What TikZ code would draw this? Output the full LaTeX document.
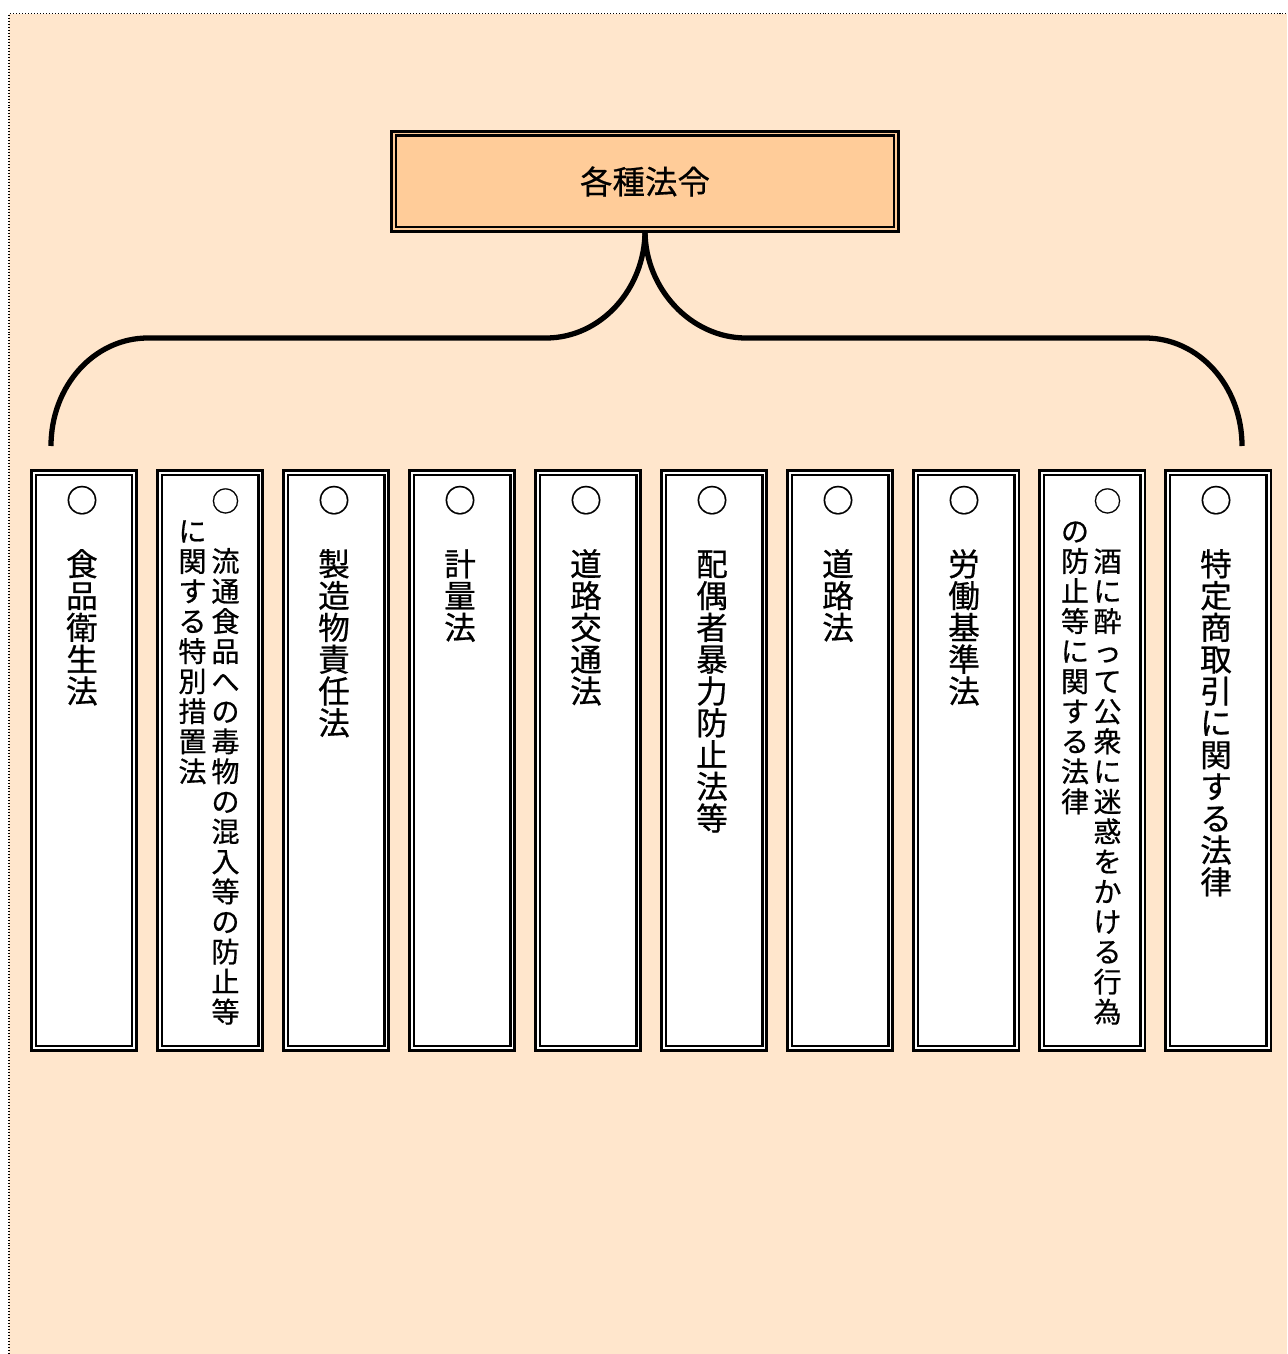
\documentclass[tikz,border=0pt]{standalone}
\usepackage{fontspec}
\newfontfamily\jp[FakeBold=0.6]{Noto Sans CJK JP}
\definecolor{paper}{RGB}{255,230,204}
\definecolor{titlefill}{RGB}{255,204,153}
\newcommand\tate[1]{\vbox{\lineskiplimit=-20pt\lineskip=0pt\tatestep#1\relax}}
\def\tatestep#1{\ifx\relax#1\else\hbox to 1em{\vrule height .88em depth .12em width 0pt\hss#1\hss}\expandafter\tatestep\fi}

\begin{document}
\begin{tikzpicture}[x=0.02cm,y=-0.02cm]
    \tikzstyle{every node}+=[inner sep=0pt]
    \tikzstyle{lawbox}=[draw=black,line width=1.42pt,double=white,double distance=1.13pt,fill=white,minimum width=2.02cm,minimum height=11.52cm]
    \tikzstyle{titlebox}=[lawbox,double=titlefill,fill=titlefill,minimum width=10.06cm,minimum height=1.92cm,font=\jp\fontsize{18.5}{20}\selectfont]
    \tikzstyle{col}=[anchor=north,font=\jp\fontsize{18}{18.1}\selectfont]
    \tikzstyle{smallcol}=[anchor=north,font=\jp\fontsize{16}{17.1}\selectfont]
    \tikzstyle{brace}=[draw=black,line width=3pt]
    \useasboundingbox (0,0) rectangle (1287,1354);
    \fill [paper] (9,14) rectangle (1287,1354);
    \draw [line width=0.57pt,dash pattern=on 0.57pt off 1.13pt] (9,1354) -- (9,14) -- (1287,14);
    \node [titlebox] (law) at (645,181.5) {各種法令};
    \coordinate (endL) at (51,446);
    \coordinate (endR) at (1242,446);
    \draw [brace] (law.south) .. controls +(0,58) and (601,338) .. (546,338) -- (148,338) .. controls (94,338) and (51,386) .. (endL);
    \draw [brace] (law.south) .. controls +(0,58) and (691,338) .. (746,338) -- (1145,338) .. controls (1199,338) and (1242,386) .. (endR);
    \foreach \i in {1,...,10}
        \node [lawbox] (box\i) at ({84+126*(\i-1)},760.5) {};
    \node [col] (t1) at (82,484) {\tate{○~食品衛生法}};
    \node [smallcol] (t2a) at (225.5,486.5) {\tate{○~流通食品への毒物の混入等の防止等}};
    \node [smallcol] (t2b) at (192.5,486.5) {\tate{~に関する特別措置法}};
    \node [col] (t3) at (334,484) {\tate{○~製造物責任法}};
    \node [col] (t4) at (460,484) {\tate{○~計量法}};
    \node [col] (t5) at (586,484) {\tate{○~道路交通法}};
    \node [col] (t6) at (712,484) {\tate{○~配偶者暴力防止法等}};
    \node [col] (t7) at (838,484) {\tate{○~道路法}};
    \node [col] (t8) at (964,484) {\tate{○~労働基準法}};
    \node [smallcol] (t9a) at (1107.5,486.5) {\tate{○~酒に酔って公衆に迷惑をかける行為}};
    \node [smallcol] (t9b) at (1075,486.5) {\tate{~の防止等に関する法律}};
    \node [col] (t10) at (1216,484) {\tate{○~特定商取引に関する法律}};
\end{tikzpicture}
\end{document}
